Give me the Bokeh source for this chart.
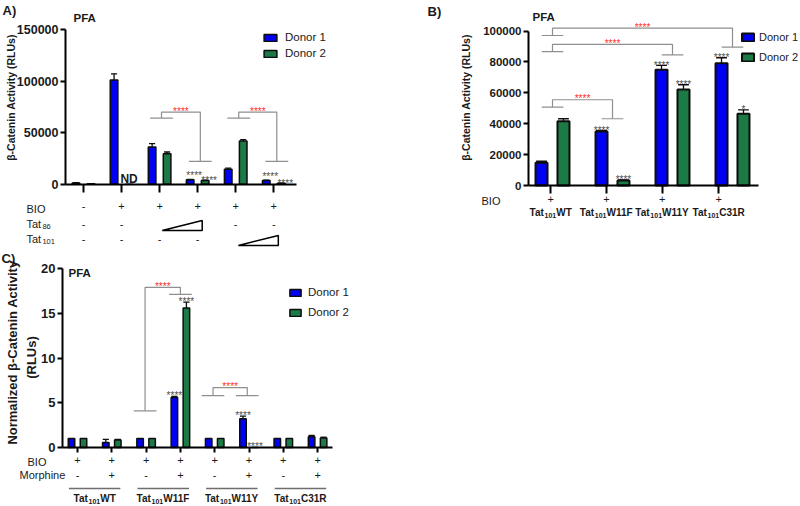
import math
from bokeh.plotting import figure
from bokeh.models import (Label, Legend, LegendItem, FixedTicker, NumeralTickFormatter,
                          PolyAnnotation, Arrow, Range1d)
from bokeh.layouts import column, row
from bokeh.core.properties import value
from bokeh.embed import file_html
from bokeh.resources import INLINE

FONT = "Liberation Sans"
BLUE = "#0000f5"
GREEN = "#1b7a45"
EDGE = "#0d0d0d"
BRACKET = "#8f8f8f"
RED = "#ff2d2d"
STAR = "#4d4d4d"
INK = "#1a1a1a"

# ------------------------------------------------------------------ data
# Panel A
a_bio = ["-", "+", "+", "+", "+", "+"]
a_tat86 = ["-", "-", "", "", "-", "-"]
a_tat101 = ["-", "-", "-", "-", "", ""]
a_tat86_ramp = [2, 3]
a_tat101_ramp = [4, 5]
a_donor1 = [1200, 101000, 36100, 4300, 14600, 3600]
a_donor1_err = [300, 6000, 3300, 300, 1000, 300]
a_donor2 = [400, 0, 29600, 3600, 41900, 900]
a_donor2_err = [100, 0, 1600, 300, 1400, 200]
a_donor2_note = ["", "ND", "", "", "", ""]
a_sig1 = ["", "", "", "****", "", "****"]
a_sig2 = ["", "", "", "****", "", "****"]
a_yticks = [0, 50000, 100000, 150000]
# brackets: (left group, left y, right group, right y, top y)
a_brackets = [(2.05, 64000, 3.07, 22100, 69900), (4.08, 64000, 5.08, 22100, 69900)]
a_bracket_sig = ["****", "****"]

# Panel B  (group names are Tat with subscript 101 + mutant)
b_groups = ["WT", "W11F", "W11Y", "C31R"]
b_bio = ["+", "+", "+", "+"]
b_donor1 = [14700, 35000, 74900, 79200]
b_donor1_err = [1000, 600, 2800, 3500]
b_donor2 = [41600, 3200, 62100, 46400]
b_donor2_err = [1600, 500, 3100, 2600]
b_sig1 = ["", "****", "****", "****"]
b_sig2 = ["", "****", "****", "*"]
b_yticks = [0, 20000, 40000, 60000, 80000, 100000]
b_brackets = [(0, 50700, 1, 43200, 55500), (0, 86700, 2, 84600, 91300),
              (0, 97100, 3, 89500, 101800)]
b_bracket_sig = ["****", "****", "****"]

# Panel C
c_groups = ["WT", "W11F", "W11Y", "C31R"]
c_bio = ["+", "+", "+", "+", "+", "+", "+", "+"]
c_morphine = ["-", "+", "-", "+", "-", "+", "-", "+"]
c_donor1 = [1.0, 0.55, 1.0, 5.6, 1.0, 3.2, 1.0, 1.2]
c_donor1_err = [0, 0.35, 0, 0.1, 0, 0.3, 0, 0.15]
c_donor2 = [1.0, 0.85, 1.0, 15.6, 1.0, 0.0, 1.0, 1.05]
c_donor2_err = [0, 0.05, 0, 0.65, 0, 0, 0, 0.1]
c_sig1 = ["", "", "", "****", "", "****", "", ""]
c_sig2 = ["", "", "", "****", "", "****", "", ""]
c_yticks = [0, 5, 10, 15, 20]
c_brackets = [(1.97, 4.1, 3.0, 17.1, 17.9), (3.95, 5.8, 4.95, 5.8, 6.7)]
c_bracket_sig = ["****", "****"]

TAT = "Tat"
TAT_SUB = "101"

# approximate advance widths (em) of Liberation Sans, for placing subscripts
BOLD_W = {"T": .611, "a": .556, "t": .333, "W": .944, "F": .611, "Y": .667,
          "C": .722, "R": .722}
REG_W = {"T": .611, "a": .556, "t": .278}


def text_w(s, size, bold):
    table = BOLD_W if bold else REG_W
    return sum(table.get(c, .556) for c in s) * size


# ------------------------------------------------------------------ helpers
def build(page_left, page_top, w, h, x_origin_px, x_unit_px, y_zero_px, y_per_px):
    """A figure whose frame is the whole panel; fx/fy map panel pixels to data."""
    def fx(px):
        return (px - x_origin_px) / x_unit_px

    def fy(py):
        return (y_zero_px - py) * y_per_px

    p = figure(width=w, height=h,
               x_range=Range1d(fx(page_left), fx(page_left + w)),
               y_range=Range1d(fy(page_top + h), fy(page_top)),
               min_border=0, min_border_left=0, min_border_right=0,
               min_border_top=0, min_border_bottom=0,
               output_backend="svg", toolbar_location=None, title=None)
    p.xgrid.visible = False
    p.ygrid.visible = False
    p.outline_line_color = None
    p.background_fill_color = "white"
    p.border_fill_color = "white"
    return p, fx, fy


def style_axes(p, x_left, x_right, ticks, tick_labels, tick_out, standoff,
               yticks, ymax, ysize):
    ax = p.xaxis[0]
    ax.fixed_location = 0
    ax.bounds = (x_left, x_right)
    ax.ticker = FixedTicker(ticks=ticks)
    ax.major_label_overrides = {t: s for t, s in zip(ticks, tick_labels)}
    ax.major_label_text_font = FONT
    ax.major_label_text_font_size = "11px"
    ax.major_label_text_color = INK
    ax.major_label_standoff = standoff
    ax.major_tick_in = 0
    ax.major_tick_out = tick_out
    ax.major_tick_line_width = 2
    ax.minor_tick_line_color = None
    ax.axis_line_width = 2
    ax.axis_line_color = "black"
    ay = p.yaxis[0]
    ay.fixed_location = x_left
    ay.bounds = (0, ymax)
    ay.ticker = FixedTicker(ticks=yticks)
    ay.formatter = NumeralTickFormatter(format="0")
    ay.major_label_text_font = FONT
    ay.major_label_text_font_style = "bold"
    ay.major_label_text_font_size = ysize
    ay.major_label_text_color = INK
    ay.major_tick_in = 0
    ay.major_tick_out = 5
    ay.major_tick_line_width = 2
    ay.major_label_standoff = 2
    ay.minor_tick_line_color = None
    ay.axis_line_width = 2
    ay.axis_line_color = "black"
    return ax, ay


def bars(p, d1, e1, d2, e2, off, width, lw, cap):
    n = len(d1)
    x1 = [i - off for i in range(n)]
    x2 = [i + off for i in range(n)]
    r1 = p.vbar(x=x1, top=d1, bottom=0, width=width, fill_color=BLUE,
                line_color=EDGE, line_width=lw)
    r2 = p.vbar(x=x2, top=d2, bottom=0, width=width, fill_color=GREEN,
                line_color=EDGE, line_width=lw)
    for xs, ds, es in ((x1, d1, e1), (x2, d2, e2)):
        ex = [x for x, e in zip(xs, es) if e > 0]
        y0 = [d for d, e in zip(ds, es) if e > 0]
        y1 = [d + e for d, e in zip(ds, es) if e > 0]
        p.segment(x0=ex, y0=y0, x1=ex, y1=y1, line_color=EDGE, line_width=1.3)
        p.segment(x0=[x - cap for x in ex], y0=y1, x1=[x + cap for x in ex], y1=y1,
                  line_color=EDGE, line_width=1.3)
    return r1, r2, x1, x2


def stars(p, xs, tops, errs, sig, dx, dy, color=STAR, size="10px"):
    sx = [x + dx for x, s in zip(xs, sig) if s]
    sy = [t + e + dy for t, e, s in zip(tops, errs, sig) if s]
    st = [s for s in sig if s]
    p.text(x=sx, y=sy, text=st, text_font=value(FONT), text_font_size=value(size),
           text_color=color, text_align="center", text_baseline="alphabetic")


def brackets(p, specs, sigs, hw, gap):
    xs, ys = [], []
    for (xl, yl, xr, yr, yt) in specs:
        xs += [[xl - hw, xl + hw], [xl, xl, xr, xr], [xr - hw, xr + hw]]
        ys += [[yl, yl], [yl, yt, yt, yr], [yr, yr]]
    p.multi_line(xs=xs, ys=ys, line_color=BRACKET, line_width=1.2)
    p.text(x=[(s[0] + s[2]) / 2 for s in specs], y=[s[4] + gap for s in specs], text=sigs,
           text_font=value(FONT), text_font_size=value("10px"), text_color=RED,
           text_align="center", text_baseline="alphabetic")


def lab(p, x, y, text, size="11px", bold=False, align="center", baseline="middle",
        angle=0.0, color=INK):
    p.add_layout(Label(x=x, y=y, text=text, text_font=FONT, text_font_size=size,
                       text_font_style="bold" if bold else "normal", text_align=align,
                       text_baseline=baseline, angle=angle, text_color=color))


def sub_label(p, x, y, parts, unit_px, per_px_y, size, sub_size, bold, align="center",
              drop=3.0):
    """parts: list of (text, is_subscript); x in data units, y in data units."""
    widths = [text_w(t, sub_size if s else size, bold) for t, s in parts]
    total = sum(widths)
    start = x - (total / 2) / unit_px if align == "center" else x
    for (t, s), w in zip(parts, widths):
        if t:
            lab(p, start, y - (drop * per_px_y if s else 0), t,
                size=f"{sub_size if s else size}px", bold=bold, align="left")
        start += w / unit_px


def legend(p, r1, r2, vx, vy, gw, gh, row_h, standoff, size="11.5px"):
    leg = Legend(items=[LegendItem(label="Donor 1", renderers=[r1]),
                        LegendItem(label="Donor 2", renderers=[r2])],
                 location=(vx, vy), orientation="vertical", padding=0, margin=0, spacing=0,
                 glyph_width=gw, glyph_height=gh, label_height=row_h, label_standoff=standoff,
                 label_text_font=FONT, label_text_font_size=size, label_text_color=INK,
                 border_line_color=None, background_fill_alpha=0)
    p.add_layout(leg)


# ------------------------------------------------------------------ panel A
A_PER_PX = 150000 / 154.7
A_UNIT = 38.05
pA, fxA, fyA = build(0, 0, 400, 250, 83, A_UNIT, 183.7, A_PER_PX)
a_ticks = list(range(len(a_donor1)))
style_axes(pA, fxA(65), fxA(296), a_ticks, a_bio, 8, 10, a_yticks, 150000, "12.5px")
r1, r2, ax1, ax2 = bars(pA, a_donor1, a_donor1_err, a_donor2, a_donor2_err,
                        0.197, 0.2, 1.5, 0.08)
stars(pA, ax1, a_donor1, a_donor1_err, a_sig1, 0.105, 4 * A_PER_PX)
stars(pA, ax2, a_donor2, a_donor2_err, a_sig2, 0.105, 0)
brackets(pA, a_brackets, a_bracket_sig, 0.3, 1 * A_PER_PX)
nd_x = [x for x, t in zip(ax2, a_donor2_note) if t]
pA.text(x=nd_x, y=[fyA(178)] * len(nd_x), text=[t for t in a_donor2_note if t],
        text_font=value(FONT), text_font_size=value("12px"), text_font_style="bold",
        text_color=INK, text_align="center", text_baseline="alphabetic")
legend(pA, r1, r2, 262, 250 - 61, 16, 9, 16, 7)

lab(pA, fxA(2), fyA(2), "A)", size="13px", bold=True, align="left", baseline="top")
lab(pA, fxA(73), fyA(17), "PFA", size="11.5px", bold=True, align="left")
lab(pA, fxA(10), fyA(97), "\u03b2-Catenin Activity (RLUs)", size="10.5px", bold=True,
    angle=math.pi / 2)
lab(pA, fxA(26), fyA(208), "BIO", size="11px", align="left")
sub_label(pA, fxA(26), fyA(223), [(TAT, False), ("86", True)], A_UNIT, A_PER_PX,
          11, 7.5, False, align="left")
sub_label(pA, fxA(26), fyA(238), [(TAT, False), (TAT_SUB, True)], A_UNIT, A_PER_PX,
          11, 7.5, False, align="left")
for i in range(len(a_bio)):
    if a_tat86[i]:
        lab(pA, i, fyA(223), a_tat86[i])
    if a_tat101[i]:
        lab(pA, i, fyA(238), a_tat101[i])
for ramp, ybot, ytop in ((a_tat86_ramp, 230, 220), (a_tat101_ramp, 245, 235)):
    pA.add_layout(PolyAnnotation(xs=[ramp[0] + 0.07, ramp[1] + 0.12, ramp[1] + 0.12],
                                 ys=[fyA(ybot), fyA(ybot), fyA(ytop)],
                                 xs_units="data", ys_units="data",
                                 fill_color="white", fill_alpha=1.0,
                                 line_color="black", line_alpha=1.0, line_width=1.5))

# ------------------------------------------------------------------ panel B
B_PER_PX = 20000 / 30.9
B_UNIT = 60
pB, fxB, fyB = build(400, 0, 400, 250, 552, B_UNIT, 185, B_PER_PX)
b_ticks = [-0.03, 0.9, 1.83, 2.77]
style_axes(pB, fxB(528), fxB(758), b_ticks, b_bio, 8, 1, b_yticks, 100000, "11.5px")
r1, r2, bx1, bx2 = bars(pB, b_donor1, b_donor1_err, b_donor2, b_donor2_err,
                        0.183, 0.2, 2, 0.09)
stars(pB, bx1, b_donor1, b_donor1_err, b_sig1, 0, 0)
stars(pB, bx2, b_donor2, b_donor2_err, b_sig2, 0, 0)
brackets(pB, b_brackets, b_bracket_sig, 0.18, 1 * B_PER_PX)
legend(pB, r1, r2, 740 - 400, 250 - 67, 15, 10, 20, 4, size="11px")

lab(pB, fxB(427), fyB(3), "B)", size="13px", bold=True, align="left", baseline="top")
lab(pB, fxB(532), fyB(16), "PFA", size="11.5px", bold=True, align="left")
lab(pB, fxB(465), fyB(97), "\u03b2-Catenin Activity (RLUs)", size="10.5px", bold=True,
    angle=math.pi / 2)
lab(pB, fxB(481), fyB(200), "BIO", size="11px", align="left")
for t, g in zip(b_ticks, b_groups):
    sub_label(pB, t, fyB(212), [(TAT, False), (TAT_SUB, True), (g, False)], B_UNIT, B_PER_PX,
              10, 7, True)

# ------------------------------------------------------------------ panel C
C_PER_PX = 20 / 179
C_UNIT = 34.3
pC, fxC, fyC = build(0, 250, 400, 256, 77, C_UNIT, 447, C_PER_PX)
c_ticks = list(range(len(c_donor1)))
style_axes(pC, fxC(62), fxC(332), c_ticks, c_bio, 5, 3, c_yticks, 20, "13px")
r1, r2, cx1, cx2 = bars(pC, c_donor1, c_donor1_err, c_donor2, c_donor2_err,
                        0.175, 0.19, 1.5, 0.09)
stars(pC, cx1, c_donor1, c_donor1_err, c_sig1, 0, 1 * C_PER_PX)
stars(pC, cx2, c_donor2, c_donor2_err, c_sig2, 0, 1 * C_PER_PX)
brackets(pC, c_brackets, c_bracket_sig, 0.33, 1 * C_PER_PX)
legend(pC, r1, r2, 288, 506 - 322, 14, 9, 20, 6)

lab(pC, fxC(1), fyC(250), "C)", size="13px", bold=True, align="left", baseline="top")
lab(pC, fxC(68), fyC(272), "PFA", size="11.5px", bold=True, align="left")
lab(pC, fxC(12), fyC(352), "Normalized \u03b2-Catenin Activity", size="13px", bold=True,
    angle=math.pi / 2)
lab(pC, fxC(31), fyC(357), "(RLUs)", size="13px", bold=True, angle=math.pi / 2)
lab(pC, fxC(27), fyC(461), "BIO", size="11px", align="left")
lab(pC, fxC(19), fyC(474), "Morphine", size="11px", align="left")
for i in range(len(c_morphine)):
    lab(pC, i, fyC(474), c_morphine[i])
for k, g in enumerate(c_groups):
    mid = 2 * k + 0.5
    pC.add_layout(Arrow(x_start=mid - 0.75, y_start=fyC(488), x_end=mid + 0.75, y_end=fyC(488),
                        start=None, end=None, line_color="#6e6e6e", line_alpha=1.0,
                        line_width=1.5))
    sub_label(pC, mid, fyC(498), [(TAT, False), (TAT_SUB, True), (g, False)], C_UNIT, C_PER_PX,
              10, 7, True)

layout = column(row(pA, pB), pC)
open("out.html", "w").write(file_html(layout, INLINE))
